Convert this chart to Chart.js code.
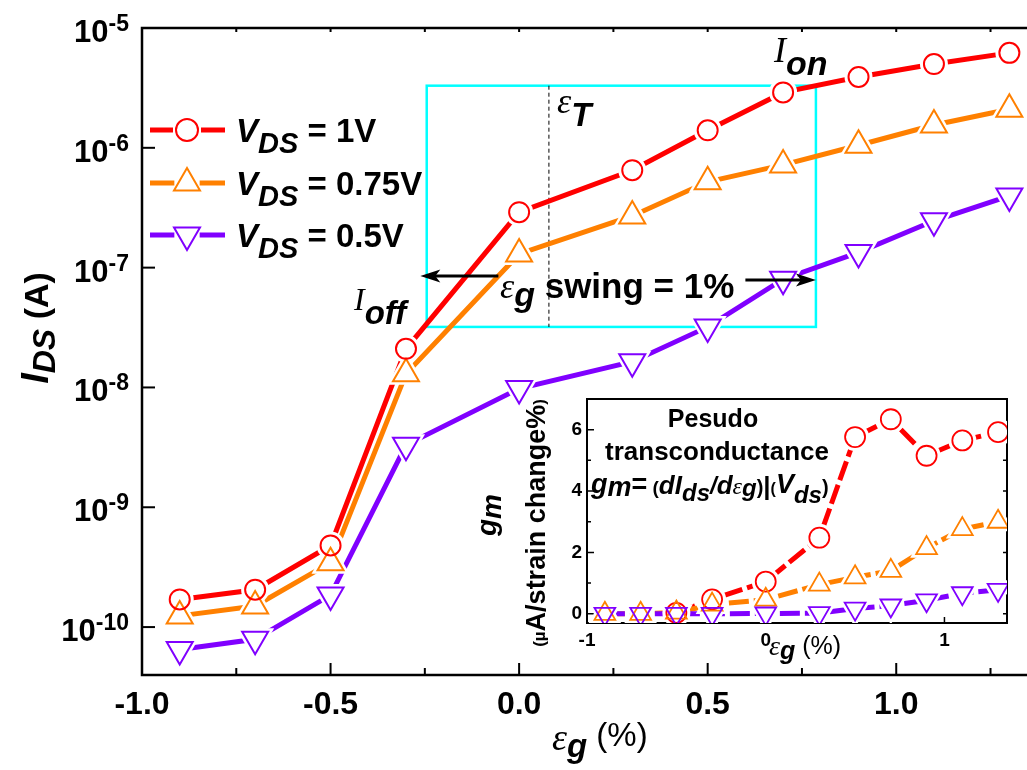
<!DOCTYPE html>
<html>
<head>
<meta charset="utf-8">
<script src="https://cdn.jsdelivr.net/npm/chart.js@4.4.1/dist/chart.umd.min.js"></script>
<style>
html, body { margin: 0; padding: 0; background: #fff; overflow: hidden; width: 1027px; height: 770px; }
#mainBox { position: absolute; left: 0; top: 0; width: 1054px; height: 770px; }
#insetBox { position: absolute; left: 440px; top: 380px; width: 587px; height: 300px; }
canvas { display: block; }
</style>
</head>
<body>
<div id="mainBox"><canvas id="main" width="1054" height="770" style="width:1054px;height:770px"></canvas></div>
<div id="insetBox"><canvas id="inset" width="587" height="300" style="width:587px;height:300px"></canvas></div>
<script>
// strain on the gate, eps_g (%)
const strain = [-0.9, -0.7, -0.5, -0.3, 0.0, 0.3, 0.5, 0.7, 0.9, 1.1, 1.3];

// I_DS (A) for each V_DS
const ids1V   = [1.7e-10, 2.05e-10, 4.8e-10, 2.1e-8, 2.9e-7, 6.5e-7, 1.4e-6, 2.9e-6, 3.9e-6, 5.0e-6, 6.2e-6];
const ids075V = [1.24e-10, 1.5e-10, 3.45e-10, 1.3e-8, 1.3e-7, 2.7e-7, 5.2e-7, 7.2e-7, 1.05e-6, 1.55e-6, 2.1e-6];
const ids05V  = [6.5e-11, 7.9e-11, 1.85e-10, 3.3e-9, 9.8e-9, 1.64e-8, 3.2e-8, 8.0e-8, 1.34e-7, 2.46e-7, 3.97e-7];

// pseudo transconductance gm (uA / strain change %)
const gm1V   = [null, null, 0.03, 0.47, 1.05, 2.48, 5.76, 6.34, 5.15, 5.65, 5.92];
const gm075V = [0.0, 0.0, 0.04, 0.3, 0.46, 0.95, 1.19, 1.4, 2.14, 2.76, 3.0];
const gm05V  = [0.0, 0.0, 0.0, 0.0, 0.01, 0.02, 0.17, 0.27, 0.44, 0.67, 0.78];

const seriesNames = ['1V', '0.75V', '0.5V'];

// ticks
const xTicks = [-1, -0.75, -0.5, -0.25, 0, 0.25, 0.5, 0.75, 1, 1.25];
const xLabels = [-1, -0.5, 0, 0.5, 1];
const yTickExps = [-10, -9, -8, -7, -6, -5];
const insetXTicks = [-1, -0.5, 0, 0.5, 1];
const insetXLabels = [-1, 0, 1];
const insetYTicks = [0, 1, 2, 3, 4, 5, 6, 7];
const insetYLabels = [0, 2, 4, 6];

// annotation anchors (data units)
const windowX = [-0.245, 0.787];
const windowY = [3.2e-8, 3.3e-6];
const epsT = 0.079;

const seriesStyle = [
  { color: '#ff0000', style: 'circle', rot: 0 },
  { color: '#ff8000', style: 'triangle', rot: 0 },
  { color: '#8000ff', style: 'triangle', rot: 180 }
];

const SANS = '"Liberation Sans", Arial, sans-serif';
const SERIF = '"Liberation Serif", "Times New Roman", serif';
const B = s => `bold ${s}px ${SANS}`;
const BI = s => `italic bold ${s}px ${SANS}`;
const R = s => `${s}px ${SANS}`;
const SI = s => `italic ${s}px ${SERIF}`;

// line, white halo (gap round the symbol) and hollow symbol for each series
function buildSets(ys, o) {
  const sets = [];
  const idx = o.redOnTop ? [0, 1, 2] : [2, 1, 0];
  idx.forEach(i => {
    const s = seriesStyle[i];
    const pts = strain.map((v, k) => ({ x: v, y: ys[i][k] }));
    const r = s.style === 'circle' ? o.circleR : o.triR;
    sets.push({ data: pts, borderColor: s.color, borderWidth: o.lineWidth, borderDash: o.dash,
      pointRadius: 0, fill: false, tension: 0, order: 3 });
    sets.push({ data: pts, showLine: false, pointStyle: s.style, pointRotation: s.rot,
      pointRadius: r + (s.style === 'circle' ? 4 : 7), pointBackgroundColor: '#fff',
      pointBorderWidth: 0, order: 2 });
    sets.push({ data: pts, showLine: false, pointStyle: s.style, pointRotation: s.rot,
      pointRadius: r, pointBackgroundColor: 'rgba(255,255,255,0)', pointBorderColor: s.color,
      pointBorderWidth: o.markerWidth, order: 1 });
  });
  return sets;
}

// text made of pieces: [text, font, dy]
function rich(ctx, x, y, parts, align) {
  let w = 0;
  parts.forEach(p => { ctx.font = p[1]; w += ctx.measureText(p[0]).width; });
  let cx = align === 'center' ? x - w / 2 : x;
  ctx.textAlign = 'left';
  ctx.textBaseline = 'alphabetic';
  parts.forEach(p => {
    ctx.font = p[1];
    ctx.fillText(p[0], cx, y + (p[2] || 0));
    cx += ctx.measureText(p[0]).width;
  });
}

function marker(ctx, s, r, x, y, lw) {
  ctx.beginPath();
  if (s.style === 'circle') {
    ctx.arc(x, y, r, 0, Math.PI * 2);
  } else {
    for (let k = 0; k < 3; k++) {
      const a = s.rot * Math.PI / 180 + k * 2 * Math.PI / 3;
      const px = x + Math.sin(a) * r, py = y - Math.cos(a) * r;
      if (k) ctx.lineTo(px, py); else ctx.moveTo(px, py);
    }
    ctx.closePath();
  }
  ctx.fillStyle = '#fff';
  ctx.fill();
  ctx.strokeStyle = s.color;
  ctx.lineWidth = lw;
  ctx.stroke();
}

function arrow(ctx, x0, x1, yy) {
  const d = Math.sign(x1 - x0);
  ctx.strokeStyle = '#000';
  ctx.lineWidth = 3;
  ctx.beginPath(); ctx.moveTo(x0, yy); ctx.lineTo(x1 - d * 14, yy); ctx.stroke();
  ctx.fillStyle = '#000';
  ctx.beginPath();
  ctx.moveTo(x1, yy);
  ctx.lineTo(x1 - d * 20, yy - 6.5);
  ctx.lineTo(x1 - d * 15, yy);
  ctx.lineTo(x1 - d * 20, yy + 6.5);
  ctx.closePath();
  ctx.fill();
}

const mainDeco = {
  id: 'mainDeco',
  beforeDatasetsDraw(chart) {
    const { ctx, scales: { x, y } } = chart;
    ctx.save();
    const x0 = x.getPixelForValue(windowX[0]), x1 = x.getPixelForValue(windowX[1]);
    const y0 = y.getPixelForValue(windowY[1]), y1 = y.getPixelForValue(windowY[0]);
    ctx.strokeStyle = '#00ffff';
    ctx.lineWidth = 2.5;
    ctx.strokeRect(x0, y0, x1 - x0, y1 - y0);
    const xt = x.getPixelForValue(epsT);
    ctx.strokeStyle = '#000';
    ctx.lineWidth = 1;
    ctx.setLineDash([4, 3]);
    ctx.beginPath(); ctx.moveTo(xt, y0); ctx.lineTo(xt, y1); ctx.stroke();
    ctx.restore();
  },
  afterDatasetsDraw(chart) {
    const { ctx, chartArea: a, scales: { x, y } } = chart;
    ctx.save();
    // frame + inward ticks
    ctx.strokeStyle = '#000';
    ctx.lineWidth = 2.5;
    ctx.strokeRect(a.left, a.top, a.right - a.left, a.bottom - a.top);
    ctx.lineWidth = 2;
    xTicks.forEach(v => {
      const px = x.getPixelForValue(v);
      const len = xLabels.includes(v) ? 12 : 7;
      ctx.beginPath();
      ctx.moveTo(px, a.bottom); ctx.lineTo(px, a.bottom - len);
      ctx.moveTo(px, a.top); ctx.lineTo(px, a.top + 4);
      ctx.stroke();
    });
    yTickExps.forEach(e => {
      const py = y.getPixelForValue(Math.pow(10, e));
      ctx.beginPath(); ctx.moveTo(a.left, py); ctx.lineTo(a.left + 13, py); ctx.stroke();
      // 10^e label
      ctx.fillStyle = '#000';
      ctx.textBaseline = 'alphabetic';
      ctx.textAlign = 'left';
      ctx.font = B(23);
      const ex = String(e);
      const we = ctx.measureText(ex).width;
      ctx.fillText(ex, 129 - we, py + 3);
      ctx.textAlign = 'right';
      ctx.font = B(31);
      ctx.fillText('10', 129 - we, py + 14);
    });

    // arrows for the swing window
    const ya = y.getPixelForValue(8.5e-8), yb = y.getPixelForValue(7.9e-8);
    arrow(ctx, x.getPixelForValue(-0.055), x.getPixelForValue(-0.262), ya);
    arrow(ctx, x.getPixelForValue(0.6), x.getPixelForValue(0.787), yb);

    ctx.fillStyle = '#000';
    // legend
    const legendY = [130, 183, 235];
    seriesStyle.forEach((s, i) => {
      const ly = legendY[i];
      const r = s.style === 'circle' ? 11 : 15;
      const gap = s.style === 'circle' ? r + 3 : 0.577 * r + 4;
      ctx.strokeStyle = s.color;
      ctx.lineWidth = 5;
      ctx.beginPath();
      ctx.moveTo(150, ly); ctx.lineTo(187 - gap, ly);
      ctx.moveTo(187 + gap, ly); ctx.lineTo(225, ly);
      ctx.stroke();
      marker(ctx, s, r, 187, ly, 2);
      ctx.fillStyle = '#000';
      rich(ctx, 236, ly + 12, [['V', BI(33)], ['DS', BI(29), 11], [' = ' + seriesNames[i], B(33)]]);
    });

    // labels on the plot
    rich(ctx, 774, 62, [['I', SI(36)], ['on', BI(34), 13]]);
    rich(ctx, 354, 310, [['I', SI(32)], ['off', BI(33), 14]]);
    rich(ctx, 557, 113, [['\u03b5', SI(36)], ['T', BI(33), 13]]);
    rich(ctx, 500, 298, [['\u03b5', SI(36)], ['g', BI(34), 8], [' swing = 1%', B(35)]]);

    // axis titles
    rich(ctx, 552, 750, [['\u03b5', SI(38)], ['g', BI(33), 7], [' (%)', R(33), -4]]);
    ctx.save();
    ctx.translate(48, 328);
    ctx.rotate(-Math.PI / 2);
    rich(ctx, 0, 0, [['I', BI(38)], ['DS', BI(32), 7], [' (A)', B(34)]], 'center');
    ctx.restore();

    // inset texts
    ctx.textAlign = 'center';
    ctx.font = B(25);
    ctx.fillText('Pesudo', 713, 427);
    ctx.font = B(26);
    ctx.fillText('transconductance', 717, 460);
    rich(ctx, 591, 493, [
      ['g', BI(27)], ['m', BI(27), 3], ['=', B(27)], [' (', B(19), 1],
      ['d', BI(26), 1], ['I', BI(26), 1], ['ds', BI(24), 8], ['/', BI(24), 1],
      ['d', BI(26), 1], ['\u03b5', SI(24), 1], ['g', BI(24), 3],
      [')', B(20), 1], ['|', B(26), 2], ['(', B(16), 1],
      ['V', BI(27)], ['ds', BI(24), 10], [')', B(20), 1]
    ]);
    rich(ctx, 769, 655, [['\u03b5', SI(28)], ['g', BI(25), 4], [' (%)', R(25), -1]]);
    ctx.save();
    ctx.translate(496, 515);
    ctx.rotate(-Math.PI / 2);
    rich(ctx, 0, 0, [['g', BI(28)], ['m', BI(28), 5]], 'center');
    ctx.restore();
    ctx.save();
    ctx.translate(545, 523);
    ctx.rotate(-Math.PI / 2);
    rich(ctx, 0, 0, [['(\u00b5', B(17)], ['A/strain change%', B(27)], [')', B(17)]], 'center');
    ctx.restore();

    ctx.restore();
  }
};

const insetDeco = {
  id: 'insetDeco',
  beforeDatasetsDraw(chart) {
    const { ctx, chartArea: a, scales: { x, y } } = chart;
    ctx.save();
    ctx.strokeStyle = '#000';
    ctx.lineWidth = 2;
    ctx.strokeRect(a.left, a.top, a.right - a.left, a.bottom - a.top);
    ctx.lineWidth = 1.5;
    insetYTicks.forEach(v => {
      const py = y.getPixelForValue(v);
      const len = insetYLabels.includes(v) ? 7 : 4;
      ctx.beginPath();
      ctx.moveTo(a.left, py); ctx.lineTo(a.left + len, py);
      ctx.moveTo(a.right, py); ctx.lineTo(a.right - 4, py);
      ctx.stroke();
    });
    insetXTicks.forEach(v => {
      const px = x.getPixelForValue(v);
      const len = insetXLabels.includes(v) ? 6 : 4;
      ctx.beginPath(); ctx.moveTo(px, a.bottom); ctx.lineTo(px, a.bottom - len); ctx.stroke();
    });
    ctx.restore();
  }
};

new Chart(document.getElementById('main'), {
  type: 'line',
  data: { datasets: buildSets([ids1V, ids075V, ids05V], { lineWidth: 5, dash: [], circleR: 10, triR: 15, markerWidth: 2, redOnTop: true }) },
  options: {
    responsive: false,
    animation: false,
    events: [],
    layout: { padding: { top: 28, right: 0, left: 0, bottom: 0 } },
    plugins: { legend: { display: false }, tooltip: { enabled: false } },
    scales: {
      x: {
        type: 'linear', min: -1, max: 1.36,
        grid: { display: false, drawTicks: false }, border: { display: false },
        afterBuildTicks: s => { s.ticks = xTicks.map(v => ({ value: v })); },
        afterFit: s => { s.height = 95; s.paddingLeft = 0; s.paddingRight = 0; },
        ticks: {
          autoSkip: false, maxRotation: 0, padding: 11, color: '#000',
          font: { family: SANS, size: 32, weight: 'bold' },
          callback: v => xLabels.includes(v) ? v.toFixed(1) : ''
        }
      },
      y: {
        type: 'logarithmic', min: Math.pow(10, -10.4), max: 1e-5,
        grid: { display: false, drawTicks: false }, border: { display: false },
        afterBuildTicks: s => { s.ticks = yTickExps.map(e => ({ value: Math.pow(10, e) })); },
        afterFit: s => { s.width = 142; s.paddingTop = 0; s.paddingBottom = 0; },
        ticks: { display: false }
      }
    }
  },
  plugins: [mainDeco]
});

new Chart(document.getElementById('inset'), {
  type: 'line',
  data: { datasets: buildSets([gm1V, gm075V, gm05V], { lineWidth: 5, dash: [20, 5], circleR: 10, triR: 12, markerWidth: 1.8, redOnTop: false }) },
  options: {
    responsive: false,
    animation: false,
    events: [],
    layout: { padding: { top: 10, right: 20, left: 0, bottom: 0 } },
    plugins: { legend: { display: false }, tooltip: { enabled: false } },
    scales: {
      x: {
        type: 'linear', min: -1, max: 1.35,
        grid: { display: false, drawTicks: false }, border: { display: false },
        afterBuildTicks: s => { s.ticks = insetXTicks.map(v => ({ value: v })); },
        afterFit: s => { s.height = 57; s.paddingLeft = 0; s.paddingRight = 0; },
        ticks: {
          autoSkip: false, maxRotation: 0, padding: 6, color: '#000',
          font: { family: SANS, size: 19, weight: 'bold' },
          callback: v => insetXLabels.includes(v) ? String(v) : ''
        }
      },
      y: {
        type: 'linear', min: -0.3, max: 7,
        grid: { display: false, drawTicks: false }, border: { display: false },
        afterBuildTicks: s => { s.ticks = insetYTicks.map(v => ({ value: v })); },
        afterFit: s => { s.width = 147; s.paddingTop = 0; s.paddingBottom = 0; },
        ticks: {
          autoSkip: false, padding: 5, color: '#000',
          font: { family: SANS, size: 19, weight: 'bold' },
          callback: v => insetYLabels.includes(v) ? String(v) : ''
        }
      }
    }
  },
  plugins: [insetDeco]
});
</script>
</body>
</html>
